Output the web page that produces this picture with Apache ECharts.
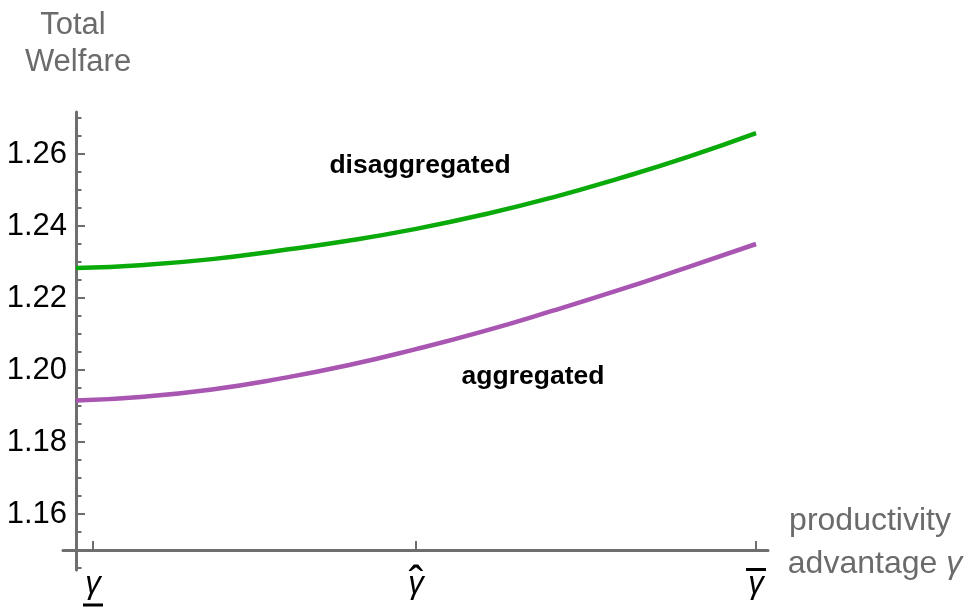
<!DOCTYPE html>
<html>
<head>
<meta charset="utf-8">
<script src="https://cdn.jsdelivr.net/npm/echarts@6/dist/echarts.min.js"></script>
<style>
html, body { margin: 0; padding: 0; background: #fff; }
#chart { width: 970px; height: 607px; }
</style>
</head>
<body>
<div id="chart"></div>
<script>
// gamma, rescaled: 0 = left end of the curves, 1 = gamma bar
var gammaX = [0, 0.1, 0.2, 0.3, 0.4, 0.5, 0.6, 0.7, 0.8, 0.9, 1];
var disaggregated = [1.2283, 1.2292, 1.2308, 1.2332, 1.2359, 1.2392, 1.2432, 1.2479, 1.2533, 1.2592, 1.2658];
var aggregated = [1.1915, 1.1926, 1.1946, 1.1976, 1.2013, 1.2058, 1.2108, 1.2164, 1.2223, 1.2286, 1.2350];

// x ticks: gamma underlined, gamma hat, gamma bar
var xTickValues = [0.025, 0.5, 1];
var xTickLabels = ['\u03b3', '\u03b3', '\u03b3'];
var xUnderTicks = [0.025];
var xHatTicks = [0.5];
var xOverTicks = [1];
var yTickValues = [1.16, 1.18, 1.20, 1.22, 1.24, 1.26];
var yTickLabels = ['1.16', '1.18', '1.20', '1.22', '1.24', '1.26'];
var yMinorTicks = [1.145, 1.15, 1.155, 1.165, 1.17, 1.175, 1.185, 1.19, 1.195, 1.205, 1.21, 1.215,
	1.225, 1.23, 1.235, 1.245, 1.25, 1.255, 1.265, 1.27];

var axisGray = '#6e6e6e';
var nameGray = '#6b6b6b';
var font = 'Liberation Sans';
var xMin = -0.0191, xMax = 1.0176;
var yMin = 1.14444, yMax = 1.27167;

function pairs(xs, ys) {
	var out = [];
	for (var i = 0; i < xs.length; i++) out.push([xs[i], ys[i]]);
	return out;
}
function lookup(vals, labels, v) {
	for (var i = 0; i < vals.length; i++) {
		if (Math.abs(vals[i] - v) < 1e-9) return labels[i];
	}
	return '';
}
// hidden axis on the same scale, only used to put an accent above / below a gamma
function accentAxis(values, text, margin, size, rich) {
	return {
		type: 'value',
		min: xMin,
		max: xMax,
		position: 'bottom',
		offset: -20,
		axisLine: { show: false },
		axisTick: { show: false },
		splitLine: { show: false },
		axisLabel: {
			customValues: values,
			formatter: function () { return text; },
			verticalAlign: 'middle',
			margin: margin,
			fontFamily: font,
			fontSize: size,
			color: '#000',
			rich: rich
		}
	};
}
var barRich = { bar: { width: 20, height: 3, lineHeight: 3, backgroundColor: '#000' } };

var myChart = echarts.init(document.getElementById('chart'));

var option = {
	animation: false,
	backgroundColor: '#fff',
	grid: {
		left: 63,
		right: 202,
		top: 112,
		bottom: 37,
		outerBoundsMode: 'none'
	},
	xAxis: [
		{
			type: 'value',
			min: xMin,
			max: xMax,
			position: 'bottom',
			offset: -20,
			axisLine: { lineStyle: { color: axisGray, width: 3 } },
			axisTick: {
				customValues: xTickValues,
				inside: true,
				length: 9,
				lineStyle: { color: axisGray, width: 2 }
			},
			axisLabel: {
				customValues: xTickValues,
				formatter: function (v) { return lookup(xTickValues, xTickLabels, v); },
				fontFamily: font,
				fontStyle: 'italic',
				fontSize: 31,
				color: '#000',
				verticalAlign: 'middle',
				margin: 34
			},
			splitLine: { show: false }
		},
		accentAxis(xUnderTicks, '{bar| }', 55, 34, barRich),
		accentAxis(xHatTicks, '\u02c6', 35, 44, null),
		accentAxis(xOverTicks, '{bar| }', 19.5, 34, barRich)
	],
	yAxis: [
		{
			type: 'value',
			min: yMin,
			max: yMax,
			position: 'left',
			axisLine: { onZero: true, onZeroAxisIndex: 0, lineStyle: { color: axisGray, width: 3 } },
			axisTick: {
				customValues: yTickValues,
				inside: true,
				length: 9,
				lineStyle: { color: axisGray, width: 2 }
			},
			axisLabel: {
				customValues: yTickValues,
				formatter: function (v) { return lookup(yTickValues, yTickLabels, v); },
				fontFamily: font,
				fontSize: 31,
				color: '#000',
				margin: -4
			},
			splitLine: { show: false }
		},
		{
			type: 'value',
			min: yMin,
			max: yMax,
			position: 'left',
			axisLine: { show: false, onZero: true, onZeroAxisIndex: 0 },
			axisTick: {
				customValues: yMinorTicks,
				inside: true,
				length: 5.5,
				lineStyle: { color: axisGray, width: 2 }
			},
			axisLabel: { show: false },
			splitLine: { show: false }
		}
	],
	series: [
		{
			name: 'disaggregated',
			type: 'line',
			data: pairs(gammaX, disaggregated),
			smooth: true,
			showSymbol: false,
			lineStyle: { color: '#0aaa0a', width: 4.5 }
		},
		{
			name: 'aggregated',
			type: 'line',
			data: pairs(gammaX, aggregated),
			smooth: true,
			showSymbol: false,
			lineStyle: { color: '#a856b2', width: 4.5 }
		}
	],
	graphic: [
		{ type: 'text', x: 73, y: 25, style: { text: 'Total', fontFamily: font, fontSize: 31, fill: nameGray, align: 'center', verticalAlign: 'middle' } },
		{ type: 'text', x: 78, y: 62, style: { text: 'Welfare', fontFamily: font, fontSize: 31, fill: nameGray, align: 'center', verticalAlign: 'middle' } },
		{ type: 'text', x: 870, y: 521, style: { text: 'productivity', fontFamily: font, fontSize: 32, fill: nameGray, align: 'center', verticalAlign: 'middle' } },
		{ type: 'text', x: 875, y: 564, style: {
			text: 'advantage {g|\u03b3}', fontFamily: font, fontSize: 32, fill: nameGray, align: 'center', verticalAlign: 'middle',
			rich: { g: { fontFamily: font, fontSize: 32, fontStyle: 'italic', fill: nameGray } }
		} },
		{ type: 'text', x: 420, y: 166, style: { text: 'disaggregated', fontFamily: font, fontSize: 26.5, fontWeight: 'bold', fill: '#000', align: 'center', verticalAlign: 'middle' } },
		{ type: 'text', x: 533, y: 377, style: { text: 'aggregated', fontFamily: font, fontSize: 26.5, fontWeight: 'bold', fill: '#000', align: 'center', verticalAlign: 'middle' } }
	]
};

myChart.setOption(option);
</script>
</body>
</html>
